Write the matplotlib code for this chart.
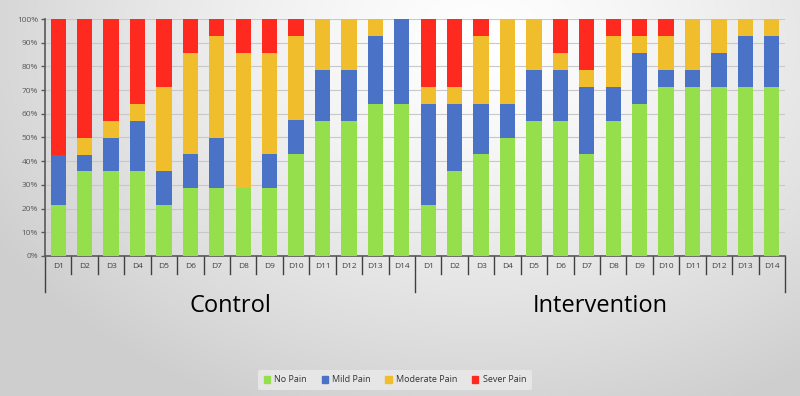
import numpy as np
import matplotlib
matplotlib.use("Agg")
import matplotlib.pyplot as plt
from matplotlib.lines import Line2D
from matplotlib.patches import Patch

days = ["D1", "D2", "D3", "D4", "D5", "D6", "D7", "D8", "D9", "D10", "D11", "D12", "D13", "D14"]
groups = ["Control", "Intervention"]
series = ["No Pain", "Mild Pain", "Moderate Pain", "Sever Pain"]
colors = ["#95DE4C", "#4A72C6", "#F0BD2C", "#FF2A1F"]

# Percentages
control_no = [21.4, 35.7, 35.7, 35.7, 21.4, 28.6, 28.6, 28.6, 28.6, 42.9, 57.1, 57.1, 64.3, 64.3]
control_mild = [21.4, 7.1, 14.3, 21.4, 14.3, 14.3, 21.4, 0.0, 14.3, 14.3, 21.4, 21.4, 28.6, 35.7]
control_mod = [0.0, 7.1, 7.1, 7.1, 35.7, 42.9, 42.9, 57.1, 42.9, 35.7, 21.4, 21.4, 7.1, 0.0]
control_sev = [57.1, 50.0, 42.9, 35.7, 28.6, 14.3, 7.1, 14.3, 14.3, 7.1, 0.0, 0.0, 0.0, 0.0]

interv_no = [21.4, 35.7, 42.9, 50.0, 57.1, 57.1, 42.9, 57.1, 64.3, 71.4, 71.4, 71.4, 71.4, 71.4]
interv_mild = [42.9, 28.6, 21.4, 14.3, 21.4, 21.4, 28.6, 14.3, 21.4, 7.1, 7.1, 14.3, 21.4, 21.4]
interv_mod = [7.1, 7.1, 28.6, 35.7, 21.4, 7.1, 7.1, 21.4, 7.1, 14.3, 21.4, 14.3, 7.1, 7.1]
interv_sev = [28.6, 28.6, 7.1, 0.0, 0.0, 14.3, 21.4, 7.1, 7.1, 7.1, 0.0, 0.0, 0.0, 0.0]

stack = [np.array(control_no + interv_no),
         np.array(control_mild + interv_mild),
         np.array(control_mod + interv_mod),
         np.array(control_sev + interv_sev)]

plt.rcParams['font.family'] = ['Open Sans', 'DejaVu Sans']

fig = plt.figure(figsize=(8, 3.96), dpi=100)

# background gradient
bg = fig.add_axes([0, 0, 1, 1], zorder=-10)
H, W = 396, 800
yy, xx = np.mgrid[0:H, 0:W]
d = np.sqrt(((xx - 480) / 560.0) ** 2 + ((yy - 40) / 400.0) ** 2)
val = 1.0 - 0.19 * np.clip(d, 0, 1) ** 1.3
img = np.dstack([val, val, val])
bg.imshow(img, aspect='auto', extent=[0, 1, 0, 1], origin='upper')
bg.axis('off')

ax = fig.add_axes([45 / 800, 1 - 256 / 396, 740 / 800, 237 / 396])
ax.patch.set_alpha(0)

n = len(days) * 2
x = np.arange(n)
bottom = np.zeros(n)
for vals, c, lab in zip(stack, colors, series):
    ax.bar(x, vals, bottom=bottom, width=0.58, color=c, label=lab, zorder=3)
    bottom += vals

ax.set_xlim(-0.5, n - 0.5)
ax.set_ylim(0, 100)
ax.set_yticks(np.arange(0, 101, 10))
ax.set_yticklabels([f"{v}%" for v in range(0, 101, 10)], fontsize=6, color="#595959")
ax.yaxis.grid(True, color="#C8C8C8", linewidth=0.8, zorder=0)
ax.tick_params(axis='y', length=3, color="#595959", width=1, pad=2)
ax.set_xticks([])
for s in ["top", "right"]:
    ax.spines[s].set_visible(False)
ax.spines["left"].set_color("#595959")
ax.spines["bottom"].set_color("#595959")
ax.spines["left"].set_linewidth(1.2)
ax.spines["bottom"].set_linewidth(1.2)

trans = ax.get_xaxis_transform()
ax_h_px = 237
def ay(px):
    return -px / ax_h_px

for i in range(n):
    ax.text(i, ay(11), days[i % len(days)], ha='center', va='center', fontsize=6,
            color="#404040", transform=trans)
for i in range(n + 1):
    xb = i - 0.5
    if i % len(days) == 0:
        y2 = ay(36)
    else:
        y2 = ay(18)
    ax.add_line(Line2D([xb, xb], [0, y2], transform=trans, color="#404040",
                       linewidth=1.0, clip_on=False))

for g, name in enumerate(groups):
    ax.text(g * len(days) + (len(days) - 1) / 2, ay(50), name, ha='center', va='center',
            fontsize=17, color="#000000", transform=trans)

leg = fig.legend(handles=[Patch(color=c, label=l) for c, l in zip(colors, series)],
                 loc='center', bbox_to_anchor=(395 / 800, 1 - 380 / 396), ncol=4,
                 fontsize=6.5, frameon=True, handlelength=0.7, handleheight=0.7,
                 handletextpad=0.5, columnspacing=1.6, borderpad=0.6)
leg.get_frame().set_facecolor("#E6E6E6")
leg.get_frame().set_edgecolor("none")
leg.get_frame().set_alpha(1)
for t in leg.get_texts():
    t.set_color("#333333")

fig.savefig("out.png", dpi=100)
